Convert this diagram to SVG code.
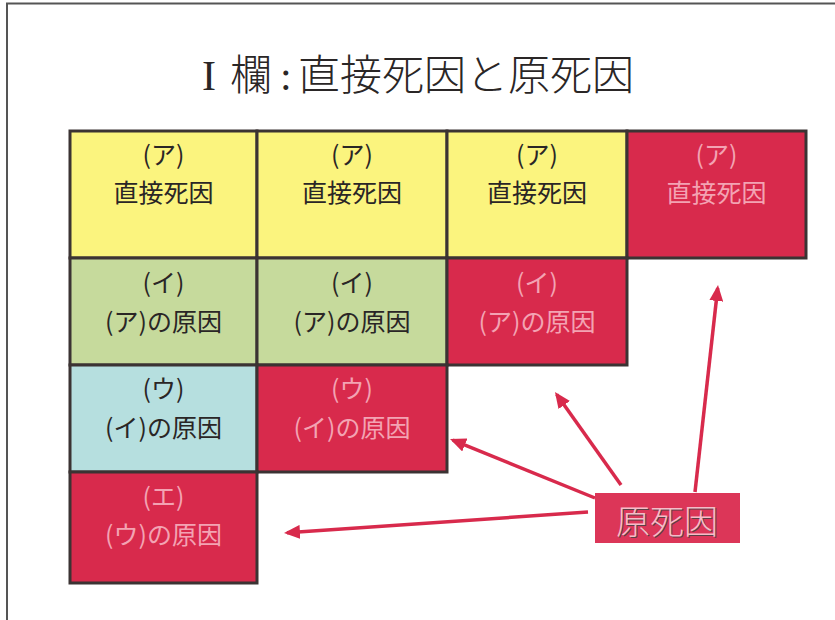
<svg xmlns="http://www.w3.org/2000/svg" width="835" height="620" viewBox="0 0 835 620">
<defs>
<style>
.cell{stroke:#3b3333;stroke-width:3}
.y{fill:#fbf47e}
.g{fill:#c6da9c}
.c{fill:#b6dfdf}
.r{fill:#d82a4c}
.t{font-family:"Noto Sans CJK JP","Noto Sans",sans-serif;font-size:25px;text-anchor:middle}
.dk{fill:#2a2626}
.pk{fill:#f3a3b3}
.arr{stroke:#d82a4c;stroke-width:3.5;fill:none;marker-end:url(#ah)}
</style>
<marker id="ah" viewBox="0 0 16 14" markerWidth="16" markerHeight="14" refX="13" refY="7" orient="auto" markerUnits="userSpaceOnUse">
<path d="M0,0 L16,7 L0,14 z" fill="#d82a4c"/>
</marker>
</defs>
<rect width="835" height="620" fill="#ffffff"/>
<path d="M7,620 V3.5 H835" fill="none" stroke="#555" stroke-width="2"/>
<g id="title">
<text y="90" font-size="42" fill="#2a2626" font-family="&quot;Liberation Serif&quot;,&quot;Noto Sans CJK JP&quot;,serif"><tspan x="202">I</tspan></text>
<text y="90" font-size="42" fill="#2a2626" font-family="&quot;Noto Sans CJK JP&quot;,sans-serif" font-weight="300"><tspan x="230">欄</tspan><tspan x="280" font-family="&quot;Liberation Serif&quot;,serif">:</tspan><tspan x="298" textLength="336" lengthAdjust="spacingAndGlyphs">直接死因と原死因</tspan></text>
</g>
<g id="a1"><rect class="cell y" x="70" y="131" width="187" height="127"/><text class="t dk" x="163.5" y="164">(ア)</text><text class="t dk" x="163.5" y="202">直接死因</text></g>
<g id="a2"><rect class="cell y" x="257" y="131" width="190" height="127"/><text class="t dk" x="352" y="164">(ア)</text><text class="t dk" x="352" y="202">直接死因</text></g>
<g id="a3"><rect class="cell y" x="447" y="131" width="180" height="127"/><text class="t dk" x="537" y="164">(ア)</text><text class="t dk" x="537" y="202">直接死因</text></g>
<g id="a4"><rect class="cell r" x="627" y="131" width="179" height="127"/><text class="t pk" x="716.5" y="164">(ア)</text><text class="t pk" x="716.5" y="202">直接死因</text></g>
<g id="b1"><rect class="cell g" x="70" y="258" width="187" height="107"/><text class="t dk" x="163.5" y="292">(イ)</text><text class="t dk" x="163.5" y="331">(ア)の原因</text></g>
<g id="b2"><rect class="cell g" x="257" y="258" width="190" height="107"/><text class="t dk" x="352" y="292">(イ)</text><text class="t dk" x="352" y="331">(ア)の原因</text></g>
<g id="b3"><rect class="cell r" x="447" y="258" width="180" height="107"/><text class="t pk" x="537" y="292">(イ)</text><text class="t pk" x="537" y="331">(ア)の原因</text></g>
<g id="c1"><rect class="cell c" x="70" y="365" width="187" height="107"/><text class="t dk" x="163.5" y="398">(ウ)</text><text class="t dk" x="163.5" y="437">(イ)の原因</text></g>
<g id="c2"><rect class="cell r" x="257" y="365" width="190" height="107"/><text class="t pk" x="352" y="398">(ウ)</text><text class="t pk" x="352" y="437">(イ)の原因</text></g>
<g id="d1"><rect class="cell r" x="70" y="472" width="187" height="111"/><text class="t pk" x="163.5" y="506">(エ)</text><text class="t pk" x="163.5" y="544">(ウ)の原因</text></g>
<g id="connectors">
<line class="arr" x1="595" y1="498" x2="452.8" y2="440.1"/>
<line class="arr" x1="621" y1="485" x2="556.7" y2="394.4"/>
<line class="arr" x1="695" y1="492" x2="717.7" y2="288"/>
<line class="arr" x1="588" y1="512" x2="287" y2="532.8"/>
</g>
<g id="label">
<rect x="595" y="493" width="145" height="50" fill="#dc3658"/>
<text x="668" y="535" font-size="34" text-anchor="middle" fill="#5a4046" font-family="&quot;Noto Sans CJK JP&quot;,sans-serif" font-weight="300">原死因</text>
<text x="667" y="534" font-size="34" text-anchor="middle" fill="#f6bcc8" font-family="&quot;Noto Sans CJK JP&quot;,sans-serif" font-weight="300">原死因</text>
</g>
</svg>
